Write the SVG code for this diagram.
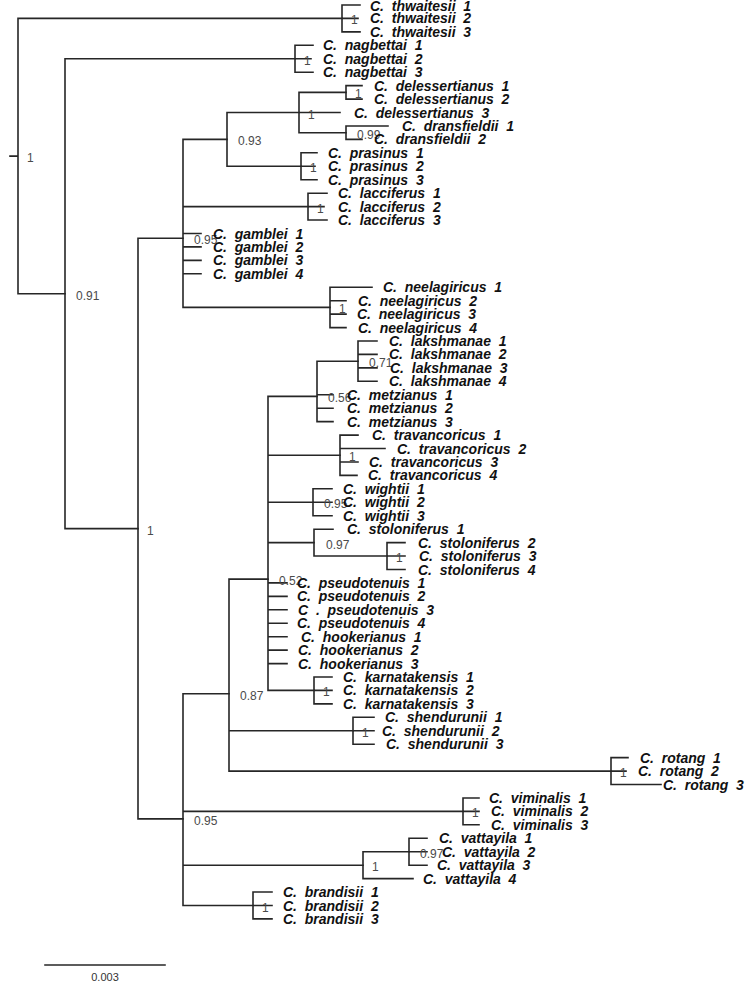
<svg xmlns="http://www.w3.org/2000/svg" width="749" height="988" viewBox="0 0 749 988">
<style>
.br{fill:none;stroke:#262626;stroke-width:1.6;stroke-linecap:square}
.tip{font-family:"Liberation Sans",Arial,sans-serif;font-size:14px;font-weight:bold;font-style:italic;fill:#111}
.sup{font-family:"Liberation Sans",Arial,sans-serif;font-size:12px;fill:#4a4a4a}
.scl{font-family:"Liberation Sans",Arial,sans-serif;font-size:11px;fill:#333;text-anchor:middle}
</style>
<rect width="749" height="988" fill="#fff"/>
<g id="connectors" class="br">
<path d="M10,156.1H18 M18,18.4V293.7 M18,18.4H342 M18,293.7H65"/>
<path d="M342,5V31.9 M342,5H360 M342,18.4H358 M342,31.9H360"/>
<path d="M65,58.8V528.6 M65,58.8H295 M65,528.6H138"/>
<path d="M295,45.3V72.2 M295,45.3H313 M295,58.8H311 M295,72.2H313"/>
<path d="M138,238.3V818.9 M138,238.3H183 M138,818.9H183"/>
<path d="M183,139.4V307.4 M183,139.4H227 M183,206.6H308 M183,233.5H201 M183,246.9H201 M183,260.4H201 M183,273.8H201 M183,307.4H330"/>
<path d="M227,112.5V166.3 M227,112.5H299 M227,166.3H301"/>
<path d="M299,92.4V132.7 M299,92.4H346 M299,112.5H340 M299,132.7H346"/>
<path d="M346,85.6V99.1 M346,85.6H362 M346,99.1H362"/>
<path d="M346,126V139.4 M346,126H388 M346,139.4H362"/>
<path d="M301,152.8V179.7 M301,152.8H317 M301,166.3H315 M301,179.7H317"/>
<path d="M308,193.2V220 M308,193.2H327 M308,206.6H324 M308,220H327"/>
<path d="M330,287.2V327.6 M330,287.2H372 M330,300.7H346 M330,314.1H346 M330,327.6H346"/>
<path d="M183,693.7V905.5 M183,693.7H229 M183,811.4H463 M183,865.2H363 M183,905.5H253"/>
<path d="M229,579.1V771.1 M229,579.1H268 M229,730.8H353 M229,771.1H611"/>
<path d="M268,396.4V690.4 M268,396.4H317 M268,455.2H340 M268,502.3H313 M268,542.6H314 M268,582.9H287 M268,596.4H287 M268,609.8H287 M268,623.2H287 M268,636.7H287 M268,650.1H287 M268,663.6H287 M268,690.4H314"/>
<path d="M317,361.2V421.6 M317,361.2H358 M317,394.8H333 M317,408.2H333 M317,421.6H333"/>
<path d="M358,341V381.3 M358,341H377 M358,354.4H377 M358,367.9H377 M358,381.3H377"/>
<path d="M340,435.1V475.4 M340,435.1H358 M340,448.5H385 M340,462H358 M340,475.4H357"/>
<path d="M313,488.8V515.7 M313,488.8H332 M313,502.3H332 M313,515.7H332"/>
<path d="M314,529.2V556 M314,529.2H333 M314,556H387"/>
<path d="M387,542.6V569.5 M387,542.6H405 M387,556H405 M387,569.5H405"/>
<path d="M314,677V703.9 M314,677H332 M314,690.4H332 M314,703.9H332"/>
<path d="M353,717.3V744.2 M353,717.3H374 M353,730.8H374 M353,744.2H374"/>
<path d="M611,757.6V784.5 M611,757.6H628 M611,771.1H626 M611,784.5H661"/>
<path d="M463,798V824.8 M463,798H479 M463,811.4H479 M463,824.8H479"/>
<path d="M363,851.7V878.6 M363,851.7H409 M363,878.6H413"/>
<path d="M409,838.3V865.2 M409,838.3H427 M409,851.7H427 M409,865.2H427"/>
<path d="M253,892V918.9 M253,892H272 M253,905.5H272 M253,918.9H272"/>
</g>
<g id="support-labels" class="sup">
<g id="n-root"><text x="27" y="162">1</text></g>
<g id="n-091"><text x="76" y="299.7">0.91</text></g>
<g id="n-thw"><text x="351" y="24.4">1</text></g>
<g id="n-nag"><text x="304" y="64.8">1</text></g>
<g id="n-main"><text x="147" y="534.6">1</text></g>
<g id="n-A"><text x="194" y="244.3">0.95</text></g>
<g id="n-B"><text x="238" y="145.4">0.93</text></g>
<g id="n-C"><text x="308" y="118.5">1</text></g>
<g id="n-D"><text x="355" y="98.4">1</text></g>
<g id="n-E"><text x="357" y="138.7">0.99</text></g>
<g id="n-P"><text x="310" y="172.3">1</text></g>
<g id="n-L"><text x="317" y="212.6">1</text></g>
<g id="n-F"><text x="339" y="313.4">1</text></g>
<g id="n-G"><text x="194" y="824.9">0.95</text></g>
<g id="n-J"><text x="240" y="699.7">0.87</text></g>
<g id="n-I"><text x="279" y="585.1">0.52</text></g>
<g id="n-K"><text x="328" y="402.4">0.56</text></g>
<g id="n-Lk"><text x="369" y="367.2">0.71</text></g>
<g id="n-Tr"><text x="349" y="461.2">1</text></g>
<g id="n-W"><text x="324" y="508.3">0.95</text></g>
<g id="n-S"><text x="326" y="548.6">0.97</text></g>
<g id="n-S2"><text x="396" y="562">1</text></g>
<g id="n-Ka"><text x="323" y="696.4">1</text></g>
<g id="n-Sh"><text x="362" y="736.8">1</text></g>
<g id="n-R"><text x="620" y="777.1">1</text></g>
<g id="n-V"><text x="472" y="817.4">1</text></g>
<g id="n-Va"><text x="372" y="871.2">1</text></g>
<g id="n-Va2"><text x="420" y="857.7">0.97</text></g>
<g id="n-Br"><text x="262" y="911.5">1</text></g>
</g>
<g id="tips" class="tip">
<g id="t1"><text x="370" y="10.8">C.&#160; thwaitesii&#160; 1</text></g>
<g id="t2"><text x="370" y="23.4">C.&#160; thwaitesii&#160; 2</text></g>
<g id="t3"><text x="370" y="36.9">C.&#160; thwaitesii&#160; 3</text></g>
<g id="t4"><text x="323" y="50.3">C.&#160; nagbettai&#160; 1</text></g>
<g id="t5"><text x="323" y="63.8">C.&#160; nagbettai&#160; 2</text></g>
<g id="t6"><text x="323" y="77.2">C.&#160; nagbettai&#160; 3</text></g>
<g id="t7"><text x="374" y="90.6">C.&#160; delessertianus&#160; 1</text></g>
<g id="t8"><text x="374" y="104.1">C.&#160; delessertianus&#160; 2</text></g>
<g id="t9"><text x="354" y="117.5">C.&#160; delessertianus&#160; 3</text></g>
<g id="t10"><text x="402" y="131">C.&#160; dransfieldii&#160; 1</text></g>
<g id="t11"><text x="374" y="144.4">C.&#160; dransfieldii&#160; 2</text></g>
<g id="t12"><text x="328" y="157.8">C.&#160; prasinus&#160; 1</text></g>
<g id="t13"><text x="328" y="171.3">C.&#160; prasinus&#160; 2</text></g>
<g id="t14"><text x="328" y="184.7">C.&#160; prasinus&#160; 3</text></g>
<g id="t15"><text x="338" y="198.2">C.&#160; lacciferus&#160; 1</text></g>
<g id="t16"><text x="338" y="211.6">C.&#160; lacciferus&#160; 2</text></g>
<g id="t17"><text x="338" y="225">C.&#160; lacciferus&#160; 3</text></g>
<g id="t18"><text x="213" y="238.5">C.&#160; gamblei&#160; 1</text></g>
<g id="t19"><text x="213" y="251.9">C.&#160; gamblei&#160; 2</text></g>
<g id="t20"><text x="213" y="265.4">C.&#160; gamblei&#160; 3</text></g>
<g id="t21"><text x="213" y="278.8">C.&#160; gamblei&#160; 4</text></g>
<g id="t22"><text x="383" y="292.2">C.&#160; neelagiricus&#160; 1</text></g>
<g id="t23"><text x="358" y="305.7">C.&#160; neelagiricus&#160; 2</text></g>
<g id="t24"><text x="357" y="319.1">C.&#160; neelagiricus&#160; 3</text></g>
<g id="t25"><text x="358" y="332.6">C.&#160; neelagiricus&#160; 4</text></g>
<g id="t26"><text x="389" y="346">C.&#160; lakshmanae&#160; 1</text></g>
<g id="t27"><text x="389" y="359.4">C.&#160; lakshmanae&#160; 2</text></g>
<g id="t28"><text x="390" y="372.9">C.&#160; lakshmanae&#160; 3</text></g>
<g id="t29"><text x="389" y="386.3">C.&#160; lakshmanae&#160; 4</text></g>
<g id="t30"><text x="347" y="399.8">C.&#160; metzianus&#160; 1</text></g>
<g id="t31"><text x="347" y="413.2">C.&#160; metzianus&#160; 2</text></g>
<g id="t32"><text x="347" y="426.6">C.&#160; metzianus&#160; 3</text></g>
<g id="t33"><text x="372" y="440.1">C.&#160; travancoricus&#160; 1</text></g>
<g id="t34"><text x="397" y="453.5">C.&#160; travancoricus&#160; 2</text></g>
<g id="t35"><text x="369" y="467">C.&#160; travancoricus&#160; 3</text></g>
<g id="t36"><text x="368" y="480.4">C.&#160; travancoricus&#160; 4</text></g>
<g id="t37"><text x="343" y="493.8">C.&#160; wightii&#160; 1</text></g>
<g id="t38"><text x="343" y="507.3">C.&#160; wightii&#160; 2</text></g>
<g id="t39"><text x="343" y="520.7">C.&#160; wightii&#160; 3</text></g>
<g id="t40"><text x="347" y="534.2">C.&#160; stoloniferus&#160; 1</text></g>
<g id="t41"><text x="418" y="547.6">C.&#160; stoloniferus&#160; 2</text></g>
<g id="t42"><text x="419" y="561">C.&#160; stoloniferus&#160; 3</text></g>
<g id="t43"><text x="418" y="574.5">C.&#160; stoloniferus&#160; 4</text></g>
<g id="t44"><text x="297" y="587.9">C.&#160; pseudotenuis&#160; 1</text></g>
<g id="t45"><text x="297" y="601.4">C.&#160; pseudotenuis&#160; 2</text></g>
<g id="t46"><text x="298" y="614.8">C&#160; .&#160; pseudotenuis&#160; 3</text></g>
<g id="t47"><text x="297" y="628.2">C.&#160; pseudotenuis&#160; 4</text></g>
<g id="t48"><text x="301" y="641.7">C.&#160; hookerianus&#160; 1</text></g>
<g id="t49"><text x="298" y="655.1">C.&#160; hookerianus&#160; 2</text></g>
<g id="t50"><text x="298" y="668.6">C.&#160; hookerianus&#160; 3</text></g>
<g id="t51"><text x="343" y="682">C.&#160; karnatakensis&#160; 1</text></g>
<g id="t52"><text x="343" y="695.4">C.&#160; karnatakensis&#160; 2</text></g>
<g id="t53"><text x="343" y="708.9">C.&#160; karnatakensis&#160; 3</text></g>
<g id="t54"><text x="385" y="722.3">C.&#160; shendurunii&#160; 1</text></g>
<g id="t55"><text x="382" y="735.8">C.&#160; shendurunii&#160; 2</text></g>
<g id="t56"><text x="386" y="749.2">C.&#160; shendurunii&#160; 3</text></g>
<g id="t57"><text x="640" y="762.6">C.&#160; rotang&#160; 1</text></g>
<g id="t58"><text x="638" y="776.1">C.&#160; rotang&#160; 2</text></g>
<g id="t59"><text x="663" y="789.5">C.&#160; rotang&#160; 3</text></g>
<g id="t60"><text x="489" y="803">C.&#160; viminalis&#160; 1</text></g>
<g id="t61"><text x="491" y="816.4">C.&#160; viminalis&#160; 2</text></g>
<g id="t62"><text x="491" y="829.8">C.&#160; viminalis&#160; 3</text></g>
<g id="t63"><text x="439" y="843.3">C.&#160; vattayila&#160; 1</text></g>
<g id="t64"><text x="442" y="856.7">C.&#160; vattayila&#160; 2</text></g>
<g id="t65"><text x="437" y="870.2">C.&#160; vattayila&#160; 3</text></g>
<g id="t66"><text x="423" y="883.6">C.&#160; vattayila&#160; 4</text></g>
<g id="t67"><text x="283" y="897">C.&#160; brandisii&#160; 1</text></g>
<g id="t68"><text x="283" y="910.5">C.&#160; brandisii&#160; 2</text></g>
<g id="t69"><text x="283" y="923.9">C.&#160; brandisii&#160; 3</text></g>
</g>
<g id="scale-bar">
<path class="br" d="M45,965H165"/>
<text class="scl" x="105" y="981">0.003</text>
</g>
</svg>
